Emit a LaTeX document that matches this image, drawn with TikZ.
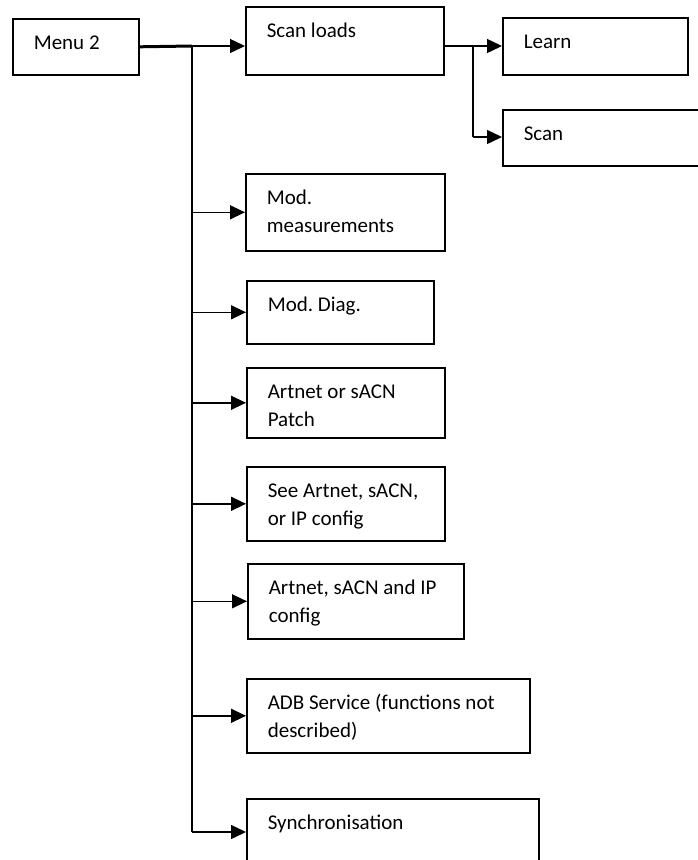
\documentclass[tikz,border=0pt]{standalone}
\usepackage{fontspec}
\setmainfont{Carlito}
\usetikzlibrary{arrows.meta}

\begin{document}
\begin{tikzpicture}[x=1pt, y=-1pt, font=\fontsize{21pt}{27.5pt}\selectfont\frenchspacing,
    box/.style={draw, rectangle, line width=1.6pt, anchor=north west, align=left,
                inner xsep=21pt, inner ysep=0pt, text height=31pt,
                execute at begin node={\spaceskip=0pt\xspaceskip=0pt}},
    branch/.style={-{Triangle[length=15pt, width=14pt]}, line width=1.4pt}]
            \useasboundingbox (0,0) rectangle (698,860);

            \node[box, text width=84pt, text depth=25pt] (menu) at (12,18) {Menu 2};
            \node[box, text width=156pt, text depth=37pt] (scanloads) at (245,6) {Scan loads};
            \node[box, text width=143pt, text depth=26pt] (learn) at (502,17) {Learn};
            \node[box, text width=156pt, text depth=25pt] (scan) at (502,109) {Scan};
            \node[box, text width=157pt, text depth=46pt] (modmeas) at (245,173) {Mod.\\measurements};
            \node[box, text width=145pt, text depth=32pt] (moddiag) at (246,280) {Mod. Diag.};
            \node[box, text width=156pt, text depth=39pt] (patch) at (246,367) {Artnet or sACN\\Patch};
            \node[box, text width=156pt, text depth=43pt] (seecfg) at (246,466) {See Artnet, sACN,\\or IP config};
            \node[box, text width=174pt, text depth=44pt] (setcfg) at (247,563) {Artnet, sACN and IP\\config};
            \node[box, text width=241pt, text depth=43pt] (adb) at (246,678) {ADB Service (functions not\\described)};
            \node[box, text width=250pt, text depth=33pt] (sync) at (246,798) {Synchronisation};

            \coordinate (trunk) at (192,46);
            \coordinate (trunkend) at (192,832);
            \coordinate (fork) at (473,46);
            \coordinate (forkend) at (473,137);

            \draw[line width=3pt] (menu.east) -- (trunk);
            \draw[line width=2.5pt] (trunk) -- (trunkend);
            \draw[branch] (trunk) -- (trunk -| scanloads.west);
            \draw[branch] (trunk |- modmeas.west) -- (modmeas.west);
            \draw[branch] (trunk |- moddiag.west) -- (moddiag.west);
            \draw[branch] (trunk |- patch.west) -- (patch.west);
            \draw[branch] (trunk |- seecfg.west) -- (seecfg.west);
            \draw[branch] (trunk |- setcfg.west) -- (setcfg.west);
            \draw[branch] (trunk |- adb.west) -- (adb.west);
            \draw[branch] (trunkend) -- (trunkend -| sync.west);

            \draw[line width=2.5pt] (scanloads.east |- fork) -- (fork);
            \draw[line width=1.5pt] (fork) -- (forkend);
            \draw[branch] (fork) -- (fork -| learn.west);
            \draw[branch] (forkend) -- (forkend -| scan.west);
        \end{tikzpicture}
\end{document}
